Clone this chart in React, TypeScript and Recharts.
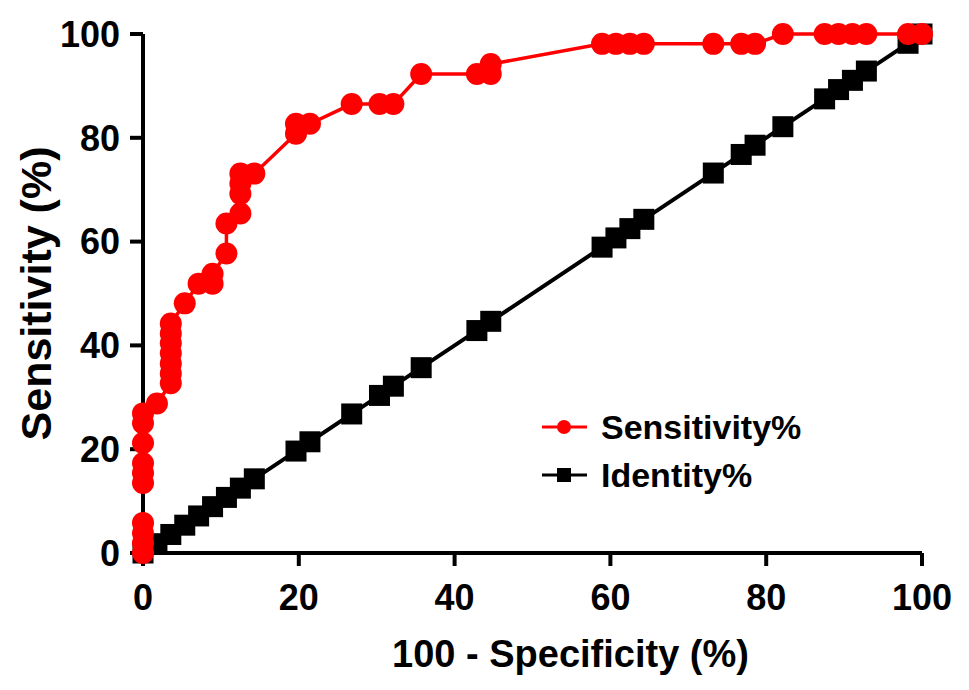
import React from "react";
import { LineChart, Line, XAxis, YAxis, Legend, Label } from "recharts";

// ROC points: 100 - specificity (x) vs sensitivity (y), both in %
const specificityX = [
  0, 0, 0, 0, 0, 0, 0, 0, 0, 0,
  1.79,
  3.57, 3.57, 3.57, 3.57, 3.57, 3.57, 3.57,
  5.36, 7.14, 8.93, 8.93, 10.71, 10.71,
  12.5, 12.5, 12.5, 12.5, 14.29,
  19.64, 19.64, 21.43, 26.79, 30.36, 32.14, 35.71, 42.86, 44.64, 44.64,
  58.93, 60.71, 62.5, 64.29, 73.21, 76.79, 78.57,
  82.14, 87.5, 89.29, 91.07, 92.86, 98.21, 100,
];
const sensitivityY = [
  0, 1.9, 3.8, 5.8, 13.5, 15.4, 17.3, 21.2, 25, 26.9,
  28.8,
  32.7, 34.6, 36.5, 38.5, 40.4, 42.3, 44.2,
  48.1, 51.9, 51.9, 53.8, 57.7, 63.5,
  65.4, 69.2, 71.2, 73.1, 73.1,
  80.8, 82.7, 82.7, 86.5, 86.5, 86.5, 92.3, 92.3, 92.3, 94.2,
  98.1, 98.1, 98.1, 98.1, 98.1, 98.1, 98.1,
  100, 100, 100, 100, 100, 100, 100,
];

// identity (reference) line
const identityX = [
  0, 1.79, 3.57, 5.36, 7.14, 8.93, 10.71, 12.5, 14.29, 19.64, 21.43, 26.79,
  30.36, 32.14, 35.71, 42.86, 44.64, 58.93, 60.71, 62.5, 64.29, 73.21, 76.79,
  78.57, 82.14, 87.5, 89.29, 91.07, 92.86, 98.21, 100,
];
const identityY = [
  0, 1.79, 3.57, 5.36, 7.14, 8.93, 10.71, 12.5, 14.29, 19.64, 21.43, 26.79,
  30.36, 32.14, 35.71, 42.86, 44.64, 58.93, 60.71, 62.5, 64.29, 73.21, 76.79,
  78.57, 82.14, 87.5, 89.29, 91.07, 92.86, 98.21, 100,
];

const axisTicks = [0, 20, 40, 60, 80, 100];
const xTitle = "100 - Specificity (%)";
const yTitle = "Sensitivity (%)";
const seriesNames = ["Sensitivity%", "Identity%"];

const sensitivityData = specificityX.map((x, i) => ({ x, y: sensitivityY[i] }));
const identityData = identityX.map((x, i) => ({ x, y: identityY[i] }));

const FONT = '"Liberation Sans", Arial, sans-serif';
const RED = "#ff0000";
const INK = "#000000";

function SquareDot(props: any) {
  const { cx, cy, index } = props;
  if (cx == null || cy == null) return <g key={`sq-${index}`} />;
  return (
    <rect key={`sq-${index}`} x={cx - 10.5} y={cy - 10.5} width={21} height={21} fill={INK} />
  );
}

function LegendBox() {
  const row = { display: "flex", alignItems: "center", height: 48 } as const;
  return (
    <div style={{ fontFamily: FONT, fontWeight: 700, fontSize: 34, color: INK, lineHeight: 1 }}>
      <div style={row}>
        <svg width={59} height={20}>
          <line x1={0} y1={10} x2={45} y2={10} stroke={RED} strokeWidth={3} />
          <circle cx={22} cy={10} r={7} fill={RED} />
        </svg>
        <span>{seriesNames[0]}</span>
      </div>
      <div style={row}>
        <svg width={59} height={20}>
          <line x1={0} y1={10} x2={45} y2={10} stroke={INK} strokeWidth={3} />
          <rect x={15} y={3} width={14} height={14} fill={INK} />
        </svg>
        <span>{seriesNames[1]}</span>
      </div>
    </div>
  );
}

export default function App() {
  const tickStyle = { fill: INK, fontSize: 36, fontFamily: FONT, fontWeight: 700 };
  return (
    <div style={{ position: "absolute", left: 0, top: 0, width: 969, height: 690, background: "#fff" }}>
      <LineChart
        width={969}
        height={690}
        margin={{ top: 34, right: 47, left: 0, bottom: 0 }}
      >
        <XAxis
          dataKey="x"
          type="number"
          domain={[0, 100]}
          ticks={axisTicks}
          height={137}
          tick={tickStyle}
          tickSize={13}
          tickMargin={18}
          axisLine={{ stroke: INK, strokeWidth: 4 }}
          tickLine={{ stroke: INK, strokeWidth: 4 }}
        >
          <Label
            value={xTitle}
            position="insideBottom"
            offset={23}
            dx={38}
            fill={INK}
            fontSize={38}
            fontWeight={700}
            fontFamily={FONT}
          />
        </XAxis>
        <YAxis
          dataKey="y"
          type="number"
          domain={[0, 100]}
          ticks={axisTicks}
          width={143}
          tick={tickStyle}
          tickSize={13}
          tickMargin={10}
          axisLine={{ stroke: INK, strokeWidth: 4 }}
          tickLine={{ stroke: INK, strokeWidth: 4 }}
        >
          <Label
            value={yTitle}
            angle={-90}
            position="insideLeft"
            offset={36}
            fill={INK}
            fontSize={43}
            fontWeight={700}
            fontFamily={FONT}
            style={{ textAnchor: "middle" }}
          />
        </YAxis>
        <Legend
          layout="vertical"
          align="center"
          verticalAlign="middle"
          content={<LegendBox />}
          wrapperStyle={{ left: 542, top: 403, width: 300 }}
        />
        <Line
          data={identityData}
          dataKey="y"
          name={seriesNames[1]}
          type="linear"
          stroke={INK}
          strokeWidth={4}
          dot={SquareDot}
          activeDot={false}
          isAnimationActive={false}
        />
        <Line
          data={sensitivityData}
          dataKey="y"
          name={seriesNames[0]}
          type="linear"
          stroke={RED}
          strokeWidth={3.5}
          dot={{ r: 11, fill: RED, stroke: RED, strokeWidth: 0 }}
          activeDot={false}
          isAnimationActive={false}
        />
      </LineChart>
    </div>
  );
}
